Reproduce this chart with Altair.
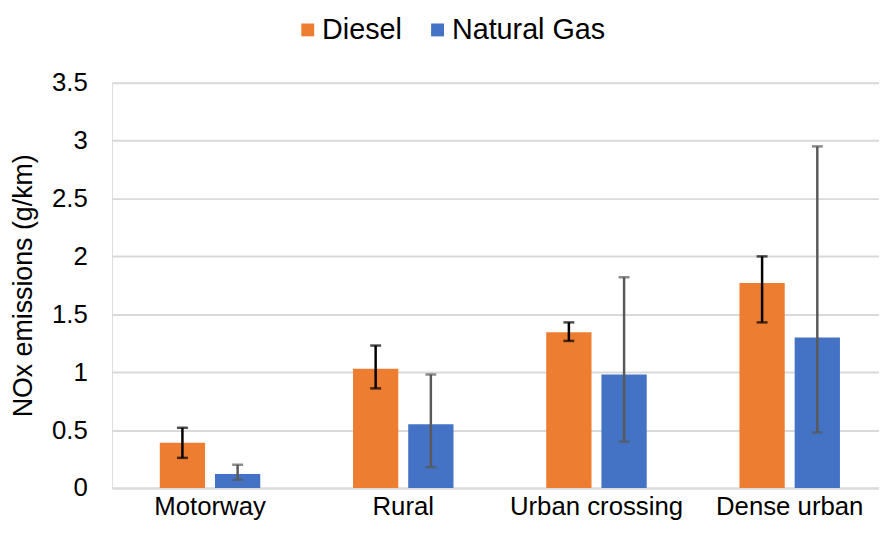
import altair as alt
import pandas as pd

categories = ["Motorway", "Rural", "Urban crossing", "Dense urban"]
series = ["Diesel", "Natural Gas"]
diesel = [0.39, 1.03, 1.345, 1.77]
diesel_lo = [0.26, 0.86, 1.27, 1.43]
diesel_hi = [0.52, 1.23, 1.43, 2.0]
gas = [0.12, 0.55, 0.98, 1.30]
gas_lo = [0.07, 0.18, 0.40, 0.48]
gas_hi = [0.20, 0.98, 1.82, 2.95]
bar_colors = ["#ED7D31", "#4472C4"]
err_colors = ["#000000", "#595959"]

rows = []
for i, c in enumerate(categories):
    rows.append(dict(cat=c, series=series[0], v=diesel[i], lo=diesel_lo[i], hi=diesel_hi[i], ec=err_colors[0]))
    rows.append(dict(cat=c, series=series[1], v=gas[i], lo=gas_lo[i], hi=gas_hi[i], ec=err_colors[1]))
df = pd.DataFrame(rows)

FONT = "Liberation Sans"

x_scale = alt.Scale(paddingInner=0.48, paddingOuter=0.2246, align=0.55)
x_enc = alt.X("cat:N", sort=categories, title=None, scale=x_scale,
              axis=alt.Axis(labelAngle=0, labelFontSize=26, labelColor="#000000", labelFont=FONT,
                            labelLimit=0, ticks=False, domain=True, domainColor="#D9D9D9", domainWidth=2,
                            labelPadding=6))
xoff = alt.XOffset("series:N", sort=series, scale=alt.Scale(paddingInner=0.18, paddingOuter=0))

bars = alt.Chart(df).mark_bar().encode(
    x=x_enc,
    xOffset=xoff,
    y=alt.Y("v:Q", title="NOx emissions (g/km)",
            scale=alt.Scale(domain=[0, 3.5], nice=False),
            axis=alt.Axis(values=[0, 0.5, 1, 1.5, 2, 2.5, 3, 3.5], format="~g",
                          labelFontSize=26, labelColor="#000000", labelFont=FONT, labelPadding=25,
                          ticks=False, domain=False, grid=True, gridColor="#D9D9D9", gridWidth=2,
                          titleFontSize=27, titleFont=FONT, titleFontWeight="normal", titleColor="#000000",
                          titlePadding=14)),
    color=alt.Color("series:N", sort=series,
                    scale=alt.Scale(domain=series, range=bar_colors),
                    legend=alt.Legend(title=None, orient="none", direction="horizontal",
                                      legendX=183, legendY=-68,
                                      symbolType="square", symbolSize=169, symbolStrokeWidth=0,
                                      labelFontSize=29, labelFont=FONT, labelColor="#000000",
                                      labelOffset=0, columnPadding=21)),
)

rule = alt.Chart(df).mark_rule(strokeWidth=2.5).encode(
    x=alt.X("cat:N", sort=categories),
    xOffset=xoff,
    y="lo:Q",
    y2="hi:Q",
    color=alt.Color("ec:N", scale=None),
)
cap_hi = alt.Chart(df).mark_tick(thickness=2.5, size=11, orient="horizontal").encode(
    x=alt.X("cat:N", sort=categories),
    xOffset=xoff,
    y="hi:Q",
    color=alt.Color("ec:N", scale=None),
)
cap_lo = alt.Chart(df).mark_tick(thickness=2.5, size=11, orient="horizontal").encode(
    x=alt.X("cat:N", sort=categories),
    xOffset=xoff,
    y="lo:Q",
    color=alt.Color("ec:N", scale=None),
)

chart = alt.layer(bars, rule, cap_hi, cap_lo).resolve_scale(color="independent").properties(
    width=774, height=409,
    autosize=alt.AutoSizeParams(type="none"),
    padding={"left": 105, "top": 73, "right": 0, "bottom": 37},
).configure_view(stroke=None).configure(background="#FFFFFF")

chart.save("out.html", embed_options={"renderer": "svg", "actions": False})
